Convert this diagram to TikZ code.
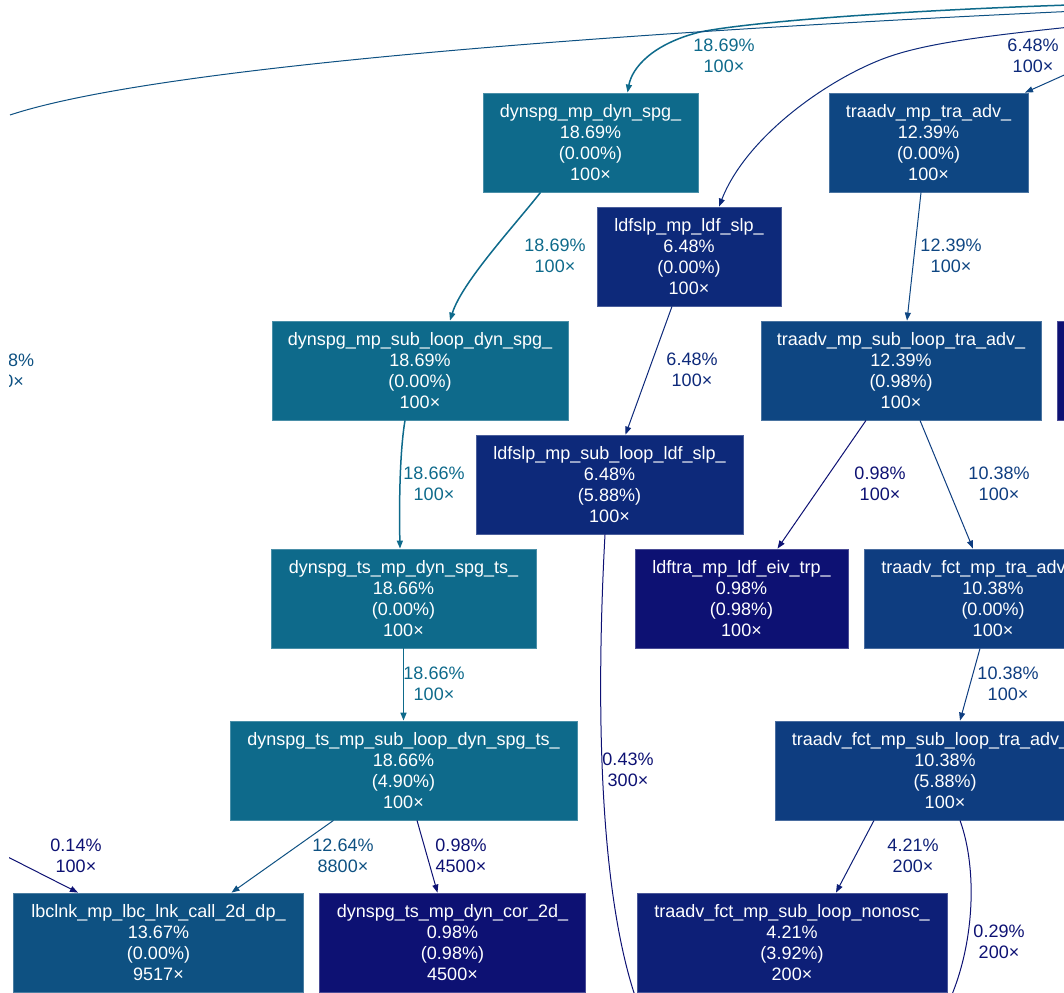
\documentclass[tikz,border=0pt]{standalone}
\usepackage{fontspec}
\setmainfont{Liberation Sans}
\usetikzlibrary{arrows.meta}
\definecolor{spg}{HTML}{0E6A8B}
\definecolor{lnk}{HTML}{0E5182}
\definecolor{tra}{HTML}{0E4682}
\definecolor{fct}{HTML}{0E3D80}
\definecolor{slp}{HTML}{0D297A}
\definecolor{osc}{HTML}{0D1F77}
\definecolor{low}{HTML}{0D1173}

\begin{document}
\begin{tikzpicture}[x=1pt,y=1pt,yscale=-1,
  fn/.style={draw=#1!75!white, line width=0.8pt, fill=#1, text=white, inner sep=0pt,
    minimum height=99pt, align=center, font=\fontsize{18}{21}\selectfont},
  lbl/.style={text=#1, inner sep=0pt, align=center, font=\fontsize{18}{21}\selectfont},
  call/.style={draw=#1, line width=1pt, -{Triangle[length=8pt,width=6pt]}}]
\useasboundingbox (0,0) rectangle (1064,992);
\clip (9,0) rectangle (1064,992);

% Function boxes
\node[fn=spg, minimum width=215pt] (dynspg) at (590.5,142.5) {dynspg\_mp\_dyn\_spg\_\\18.69\%\\(0.00\%)\\100×};
\node[fn=tra, minimum width=199pt] (traadv) at (928.5,142.5) {traadv\_mp\_tra\_adv\_\\12.39\%\\(0.00\%)\\100×};
\node[fn=slp, minimum width=184pt] (ldfslp) at (689,256.5) {ldfslp\_mp\_ldf\_slp\_\\6.48\%\\(0.00\%)\\100×};
\node[fn=spg, minimum width=296pt] (dynsub) at (420,370.5) {dynspg\_mp\_sub\_loop\_dyn\_spg\_\\18.69\%\\(0.00\%)\\100×};
\node[fn=tra, minimum width=280pt] (trasub) at (901,370.5) {traadv\_mp\_sub\_loop\_tra\_adv\_\\12.39\%\\(0.98\%)\\100×};
\node[fn=low, minimum width=200pt] (rcut) at (1157,370.5) {};
\node[fn=slp, minimum width=267pt] (ldfsub) at (609.5,484.5) {ldfslp\_mp\_sub\_loop\_ldf\_slp\_\\6.48\%\\(5.88\%)\\100×};
\node[fn=spg, minimum width=265pt] (spgts) at (403.5,598.5) {dynspg\_ts\_mp\_dyn\_spg\_ts\_\\18.66\%\\(0.00\%)\\100×};
\node[fn=low, minimum width=213pt] (eivtrp) at (741.5,598.5) {ldftra\_mp\_ldf\_eiv\_trp\_\\0.98\%\\(0.98\%)\\100×};
\node[fn=fct, minimum width=257pt] (fct) at (993,598.5) {traadv\_fct\_mp\_tra\_adv\_fct\_\\10.38\%\\(0.00\%)\\100×};
\node[fn=spg, minimum width=347pt] (spgtssub) at (403.5,770.5) {dynspg\_ts\_mp\_sub\_loop\_dyn\_spg\_ts\_\\18.66\%\\(4.90\%)\\100×};
\node[fn=fct, minimum width=340pt] (fctsub) at (945,770.5) {traadv\_fct\_mp\_sub\_loop\_tra\_adv\_fct\_\\10.38\%\\(5.88\%)\\100×};
\node[fn=lnk, minimum width=290pt] (lbclnk) at (158.5,942.5) {lbclnk\_mp\_lbc\_lnk\_call\_2d\_dp\_\\13.67\%\\(0.00\%)\\9517×};
\node[fn=low, minimum width=266pt] (dyncor) at (452.5,942.5) {dynspg\_ts\_mp\_dyn\_cor\_2d\_\\0.98\%\\(0.98\%)\\4500×};
\node[fn=osc, minimum width=310pt] (nonosc) at (792,942.5) {traadv\_fct\_mp\_sub\_loop\_nonosc\_\\4.21\%\\(3.92\%)\\200×};

% Free ends outside the frame
\coordinate (inspg) at (1100,4);
\coordinate (inlnk) at (1100,10);
\coordinate (outlnk) at (10,115);
\coordinate (inslp) at (1100,24);
\coordinate (intra) at (1100,59);
\coordinate (inlow) at (0,853);
\coordinate (outldf) at (640,1010);
\coordinate (outfct) at (945,1010);

% Calls
\draw[call=spg, line width=1.5pt] (inspg) .. controls (900,10) and (750,22) .. (700,32) .. controls (652,44) and (632,68) .. ([xshift=37pt]dynspg.north);
\draw[call=lnk, -] (inlnk) .. controls (700,28) and (170,62) .. (outlnk);
\draw[call=slp] (inslp) .. controls (980,36) and (920,44) .. (880,60) .. controls (820,84) and (745,140) .. ([xshift=30pt]ldfslp.north);
\draw[call=tra] (intra) -- ([xshift=96.5pt]traadv.north);
\draw[call=spg, line width=1.5pt] ([xshift=-50pt]dynspg.south) .. controls (515,225) and (462,282) .. ([xshift=30pt]dynsub.north);
\draw[call=tra] ([xshift=-7.5pt]traadv.south) -- ([xshift=6pt]trasub.north);
\draw[call=slp] ([xshift=-17pt]ldfslp.south) -- ([xshift=16pt]ldfsub.north);
\draw[call=spg, line width=1.5pt] ([xshift=-15pt]dynsub.south) .. controls (400,450) and (399,500) .. ([xshift=-3.5pt]spgts.north);
\draw[call=low] ([xshift=-35pt]trasub.south) -- ([xshift=36pt]eivtrp.north);
\draw[call=fct] ([xshift=19pt]trasub.south) -- ([xshift=-20pt]fct.north);
\draw[call=spg, line width=1.5pt] (spgts.south) -- (spgtssub.north);
\draw[call=fct] ([xshift=-13pt]fct.south) -- ([xshift=15pt]fctsub.north);
\draw[call=low, -] ([xshift=-4.5pt]ldfsub.south) .. controls (596,700) and (598,900) .. (outldf);
\draw[call=lnk] ([xshift=-70pt]spgtssub.south) -- ([xshift=73pt]lbclnk.north);
\draw[call=low] ([xshift=13.5pt]spgtssub.south) -- ([xshift=-15pt]dyncor.north);
\draw[call=low] (inlow) -- ([xshift=-80.5pt]lbclnk.north);
\draw[call=osc] ([xshift=-71pt]fctsub.south) -- ([xshift=44pt]nonosc.north);
\draw[call=low, -] ([xshift=15pt]fctsub.south) .. controls (978,870) and (975,950) .. (outfct);

% Call labels
\node[lbl=spg] (pspg) at (724,55.5) {18.69\%\\100×};
\node[lbl=slp] (pslp) at (1033,55.5) {6.48\%\\100×};
\node[lbl=lnk] (plnk) at (3.7,370.5) {13.68\%\\100×};
\node[lbl=spg] (pAD) at (555,255.5) {18.69\%\\100×};
\node[lbl=tra] (pBE) at (951,255.5) {12.39\%\\100×};
\node[lbl=slp] (pCG) at (692,369.5) {6.48\%\\100×};
\node[lbl=spg] (pDH) at (434,483.5) {18.66\%\\100×};
\node[lbl=low] (pEI) at (880,483.5) {0.98\%\\100×};
\node[lbl=fct] (pEJ) at (999,483.5) {10.38\%\\100×};
\node[lbl=spg] (pHK) at (434,683.5) {18.66\%\\100×};
\node[lbl=fct] (pJL) at (1008,683.5) {10.38\%\\100×};
\node[lbl=low] (pGo) at (628,769.5) {0.43\%\\300×};
\node[lbl=lnk] (pKM) at (343,855.5) {12.64\%\\8800×};
\node[lbl=low] (pKN) at (461,855.5) {0.98\%\\4500×};
\node[lbl=low] (piM) at (76,855.5) {0.14\%\\100×};
\node[lbl=osc] (pLO) at (913,855.5) {4.21\%\\200×};
\node[lbl=low] (pLo) at (999,941.5) {0.29\%\\200×};

\end{tikzpicture}
\end{document}
